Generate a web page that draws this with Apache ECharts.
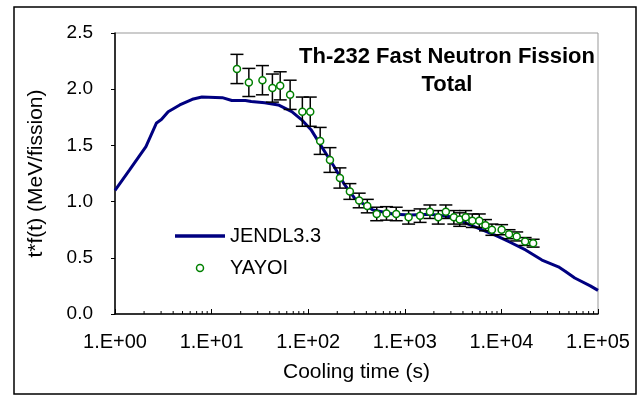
<!DOCTYPE html>
<html><head><meta charset="utf-8">
<script src="https://cdn.jsdelivr.net/npm/echarts@6/dist/echarts.min.js"></script>
<style>html,body{margin:0;padding:0;background:#fff}#c{width:640px;height:396px}</style>
</head><body><div id="c"></div>
<script>
const jendlTime = [1, 1.41, 2.09, 2.69, 3.02, 3.55, 4.68, 6.31, 7.94, 12.9, 16.2, 22.4, 25.7, 35.5, 49, 67.6, 85.1, 107, 135, 186, 234, 302, 468, 776, 1150, 1820, 2950, 3980, 5890, 8710, 12000, 17800, 26300, 38900, 45700, 57500, 83200, 100000];
const jendlValue = [1.10, 1.28, 1.49, 1.70, 1.73, 1.80, 1.86, 1.91, 1.93, 1.925, 1.90, 1.90, 1.89, 1.88, 1.86, 1.80, 1.73, 1.64, 1.50, 1.31, 1.16, 1.03, 0.925, 0.887, 0.88, 0.887, 0.866, 0.82, 0.76, 0.70, 0.643, 0.57, 0.48, 0.42, 0.38, 0.32, 0.25, 0.21];
const yayoiTime = [18.3, 24.3, 33.6, 42.6, 51.3, 65, 87, 105, 133, 168, 213, 270, 337, 409, 512, 646, 815, 1095, 1440, 1820, 2220, 2660, 3220, 3700, 4270, 5000, 5900, 6840, 7980, 10050, 12000, 14400, 17600, 21300];
const yayoiValue = [2.18, 2.06, 2.08, 2.01, 2.03, 1.95, 1.80, 1.80, 1.54, 1.37, 1.21, 1.09, 1.01, 0.96, 0.89, 0.895, 0.89, 0.86, 0.875, 0.91, 0.86, 0.91, 0.86, 0.84, 0.86, 0.83, 0.83, 0.79, 0.75, 0.75, 0.71, 0.69, 0.645, 0.63];
const yayoiError = [0.13, 0.125, 0.13, 0.125, 0.125, 0.13, 0.13, 0.13, 0.12, 0.11, 0.09, 0.07, 0.065, 0.06, 0.06, 0.06, 0.06, 0.06, 0.06, 0.06, 0.06, 0.06, 0.06, 0.06, 0.06, 0.06, 0.06, 0.05, 0.05, 0.045, 0.04, 0.04, 0.035, 0.035];
const minorTicks = [];
for (let k = 0; k < 5; k++) for (let m = 2; m <= 9; m++) minorTicks.push(m * Math.pow(10, k));
const titleText = 'Th-232 Fast Neutron Fission\nTotal';
const xName = 'Cooling time (s)';
const yName = 't*f(t) (MeV/fission)';

const FONT = 'Liberation Sans, Arial, sans-serif';
const chart = echarts.init(document.getElementById('c'), null, {renderer: 'canvas'});
chart.setOption({
  animation: false,
  backgroundColor: '#fff',
  title: {
    text: titleText, left: 442, top: 38, textAlign: 'center',
    textStyle: {fontFamily: FONT, fontSize: 22, fontWeight: 'bold', color: '#000', lineHeight: 28, align: 'center'}
  },
  grid: {left: 115, right: 42, top: 33, bottom: 82, show: true, borderColor: '#999', borderWidth: 1},
  legend: {
    orient: 'vertical', left: 170, top: 221, itemWidth: 50, itemHeight: 7, itemGap: 12,
    textStyle: {fontFamily: FONT, fontSize: 20, color: '#000'},
    data: [
      {name: 'JENDL3.3', icon: 'path://M0,0L50,0L50,3.5L0,3.5Z', itemStyle: {color: '#000080'}},
      {name: 'YAYOI', icon: 'circle', itemStyle: {color: '#fff', borderColor: '#008000', borderWidth: 1.5}}
    ]
  },
  graphic: [{type: 'rect', shape: {x: 14, y: 7, width: 622, height: 387}, style: {fill: 'none', stroke: '#000', lineWidth: 1.5}, silent: true, z: 100}],
  xAxis: {
    type: 'log', logBase: 10, min: 1, max: 100000,
    name: xName, nameLocation: 'middle', nameGap: 48,
    nameTextStyle: {fontFamily: FONT, fontSize: 21, color: '#000'},
    axisLine: {lineStyle: {color: '#000', width: 1.5}},
    axisTick: {inside: true, length: 5, lineStyle: {color: '#000'}},
    axisLabel: {fontFamily: FONT, fontSize: 20, color: '#000', margin: 18,
      formatter: v => '1.E+' + String(Math.round(Math.log10(v))).padStart(2, '0')},
    splitLine: {show: false}
  },
  yAxis: {
    type: 'value', min: 0, max: 2.5, interval: 0.5,
    name: yName, nameLocation: 'middle', nameGap: 68, nameRotate: 90,
    nameTextStyle: {fontFamily: FONT, fontSize: 21, color: '#000'},
    axisLine: {show: true, lineStyle: {color: '#000', width: 1.5}},
    axisTick: {show: true, length: 4, lineStyle: {color: '#000'}},
    axisLabel: {fontFamily: FONT, fontSize: 19, color: '#000', margin: 22, formatter: v => v.toFixed(1)},
    splitLine: {show: false}
  },
  series: [
    {
      name: 'JENDL3.3', type: 'line', symbol: 'none', smooth: false, z: 2,
      lineStyle: {color: '#000080', width: 3},
      itemStyle: {color: '#000080'},
      data: jendlTime.map((t, i) => [t, jendlValue[i]])
    },
    {
      name: 'minor', type: 'custom', silent: true, z: 5,
      data: minorTicks.map(t => [t, 0]),
      renderItem: (params, api) => {
        const p = api.coord([api.value(0), 0]);
        return {type: 'line', shape: {x1: p[0], y1: p[1], x2: p[0], y2: p[1] - 3}, style: {stroke: '#000', lineWidth: 1}};
      }
    },
    {
      name: 'err', type: 'custom', silent: true, z: 3,
      data: yayoiTime.map((t, i) => [t, yayoiValue[i] - yayoiError[i], yayoiValue[i] + yayoiError[i]]),
      renderItem: (params, api) => {
        const lo = api.coord([api.value(0), api.value(1)]);
        const hi = api.coord([api.value(0), api.value(2)]);
        const w = 6.5;
        const st = {stroke: '#000', lineWidth: 1.5};
        return {type: 'group', children: [
          {type: 'line', shape: {x1: lo[0], y1: lo[1], x2: hi[0], y2: hi[1]}, style: st},
          {type: 'line', shape: {x1: lo[0] - w, y1: lo[1], x2: lo[0] + w, y2: lo[1]}, style: st},
          {type: 'line', shape: {x1: hi[0] - w, y1: hi[1], x2: hi[0] + w, y2: hi[1]}, style: st}
        ]};
      }
    },
    {
      name: 'YAYOI', type: 'scatter', symbol: 'circle', symbolSize: 7, z: 4,
      itemStyle: {color: '#fff', borderColor: '#008000', borderWidth: 1.5, opacity: 1},
      data: yayoiTime.map((t, i) => [t, yayoiValue[i]])
    }
  ]
});
</script></body></html>
